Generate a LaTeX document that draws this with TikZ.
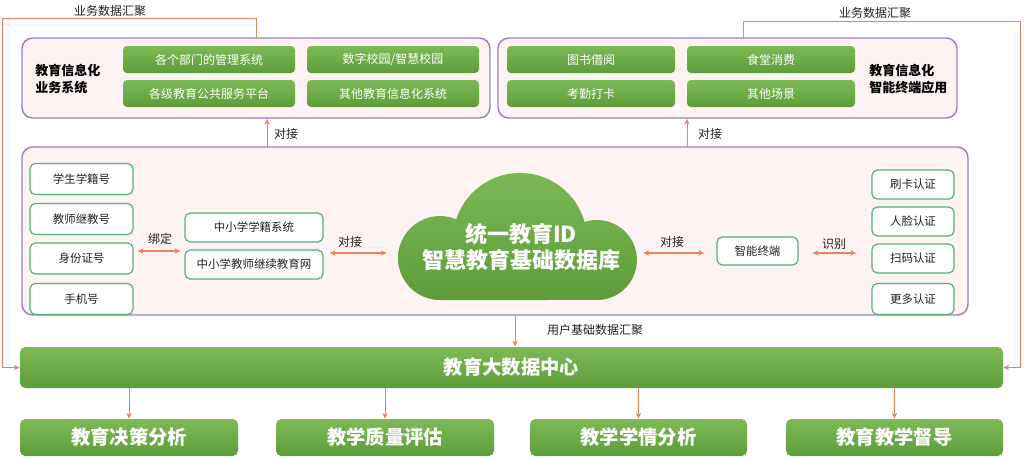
\documentclass[tikz,border=0pt]{standalone}
\usepackage{fontspec}
\setmainfont{Noto Sans CJK SC}
\usetikzlibrary{arrows.meta,calc}
\definecolor{gTop}{HTML}{7DBA57}
\definecolor{gBot}{HTML}{5E9C3B}
\definecolor{purp}{HTML}{9B80C0}
\definecolor{pale}{HTML}{FDF3F3}
\definecolor{orng}{HTML}{E9825F}
\definecolor{gline}{HTML}{52B077}
\definecolor{txt}{HTML}{222222}
\begin{document}
\begin{tikzpicture}[x=0.75pt,y=-0.75pt,
  sz/.style 2 args={minimum width=#1*0.75pt, minimum height=#2*0.75pt},
  container/.style={draw=purp, fill=pale, line width=1.1pt, rounded corners=8pt, inner sep=0pt},
  gbox/.style={rounded corners=3pt, top color=gTop, bottom color=gBot, text=white, inner sep=0pt, font=\fontsize{9pt}{11pt}\selectfont},
  wbox/.style={draw=gline, fill=white, line width=0.9pt, rounded corners=4pt, inner sep=0pt, text=txt, font=\fontsize{8.6pt}{10pt}\selectfont},
  lbl/.style={text=txt, inner sep=0pt, font=\fontsize{9pt}{11pt}\selectfont},
  title/.style={text=black, inner sep=0pt, align=left, anchor=west, font=\fontsize{9.75pt}{12.75pt}\selectfont\bfseries},
  bigbox/.style={rounded corners=4pt, top color=gTop, bottom color=gBot, text=white, inner sep=0pt, font=\fontsize{14.5pt}{17pt}\selectfont\bfseries},
  arr/.style={draw=orng, line width=0.75pt, -{Stealth[length=4.5pt,width=4pt]}},
  darr/.style={draw=orng, line width=0.9pt, {Stealth[length=4.5pt,width=4pt]}-{Stealth[length=4.5pt,width=4pt]}}
]
\useasboundingbox (0,0) rectangle (1024,457);

% containers
\node[container, sz={468}{80}] (tl) at (256,78) {};
\node[container, sz={459}{80}] (tr) at (727.5,78) {};
\node[container, sz={946}{168}] (mid) at (495,231) {};

% top-left
\node[gbox, sz={172}{27}] (a1) at (209,59.5) {各个部门的管理系统};
\node[gbox, sz={172}{27}] (a2) at (393,59.5) {数字校园/智慧校园};
\node[gbox, sz={172}{27}] (a3) at (209,93.5) {各级教育公共服务平台};
\node[gbox, sz={172}{27}] (a4) at (393,93.5) {其他教育信息化系统};
\node[title] (tlt) at (35,79) {教育信息化\\业务系统};

% top-right
\node[gbox, sz={168}{27}] (b1) at (591,59.5) {图书借阅};
\node[gbox, sz={168}{27}] (b2) at (771,59.5) {食堂消费};
\node[gbox, sz={168}{27}] (b3) at (591,93.5) {考勤打卡};
\node[gbox, sz={168}{27}] (b4) at (771,93.5) {其他场景};
\node[title] (trt) at (869,79) {教育信息化\\智能终端应用};

% left column
\node[wbox, sz={103}{31}] (id1) at (81.5,179) {学生学籍号};
\node[wbox, sz={103}{31}] (id2) at (81.5,219) {教师继教号};
\node[wbox, sz={103}{31}] (id3) at (81.5,258.5) {身份证号};
\node[wbox, sz={103}{31}] (id4) at (81.5,299) {手机号};

% systems
\node[wbox, sz={138}{29}] (s1) at (254,227.5) {中小学学籍系统};
\node[wbox, sz={138}{29}] (s2) at (254,264.5) {中小学教师继续教育网};

% cloud
\shade[top color=gTop, bottom color=gBot]
  (440,300) arc[start angle=90, end angle=292.8, radius=42]
  arc[start angle=198, end angle=344.4, radius=67]
  arc[start angle=251.9, end angle=450, radius=40] -- cycle;
\node[inner sep=0pt, sz={238}{127}] (cloudbox) at (517,236.5) {};
\node[inner sep=0pt, text=white, align=center, font=\fontsize{16.5pt}{20pt}\selectfont\bfseries] (cloudtxt) at (521,247) {统一教育ID\\智慧教育基础数据库};

% terminal
\node[wbox, sz={81}{28}] (zd) at (757.5,251) {智能终端};

% right column
\node[wbox, sz={82}{29}] (r1) at (913,184.5) {刷卡认证};
\node[wbox, sz={82}{29}] (r2) at (913,221.5) {人脸认证};
\node[wbox, sz={82}{29}] (r3) at (913,258.5) {扫码认证};
\node[wbox, sz={82}{31}] (r4) at (913,299) {更多认证};

% big bar and bottom boxes
\node[bigbox, sz={983}{41}] (bar) at (511.5,367.5) {教育大数据中心};
\node[bigbox, sz={218}{37}] (c1) at (129,437.5) {教育决策分析};
\node[bigbox, sz={218}{37}] (c2) at (385,437.5) {教学质量评估};
\node[bigbox, sz={217}{37}] (c3) at (638.5,437.5) {教学学情分析};
\node[bigbox, sz={217}{37}] (c4) at (894.5,437.5) {教育教学督导};

% coordinates
\coordinate (lc) at (2,18);
\coordinate (rs) at (743,38);
\coordinate (rc) at (1020,21);
\coordinate (u1) at (267,147);
\coordinate (u2) at (687,147);
\coordinate (d1) at (515,315);
\coordinate (yb) at (0,251);
\coordinate (yc) at (0,253);

% feedback lines
\draw[arr] (tl.north) |- (lc) |- (bar.west);
\draw[arr] (rs) |- (rc) |- (bar.east);
\node[lbl] (l1) at (110,11) {业务数据汇聚};
\node[lbl] (l2) at (875,13) {业务数据汇聚};

% up arrows
\draw[arr] (u1) -- (u1 |- tl.south);
\draw[arr] (u2) -- (u2 |- tr.south);
\node[lbl] (l3) at (286,134) {对接};
\node[lbl] (l4) at (710,134) {对接};

% double arrows
\draw[darr] ($(id3.east|-yb)+(4,0)$) -- ($(s1.west|-yb)+(-4,0)$);
\node[lbl] (l5) at (160,239) {绑定};
\draw[darr] ($(s2.east|-yc)+(6,0)$) -- ($(cloudbox.west|-yc)+(-11,0)$);
\node[lbl] (l6) at (350,242) {对接};
\draw[darr] ($(cloudbox.east|-yc)+(7,0)$) -- ($(zd.west|-yc)+(-12,0)$);
\node[lbl] (l7) at (672,242) {对接};
\draw[darr] ($(zd.east|-yc)+(14,0)$) -- ($(r3.west|-yc)+(-15,0)$);
\node[lbl] (l8) at (834,244) {识别};

% down arrows
\draw[arr] (d1) -- (d1 |- bar.north);
\node[lbl] (l9) at (595,330) {用户基础数据汇聚};
\draw[arr] (bar.south -| c1) -- (c1.north);
\draw[arr] (bar.south -| c2) -- (c2.north);
\draw[arr] (bar.south -| c3) -- (c3.north);
\draw[arr] (bar.south -| c4) -- (c4.north);
\end{tikzpicture}
\end{document}
